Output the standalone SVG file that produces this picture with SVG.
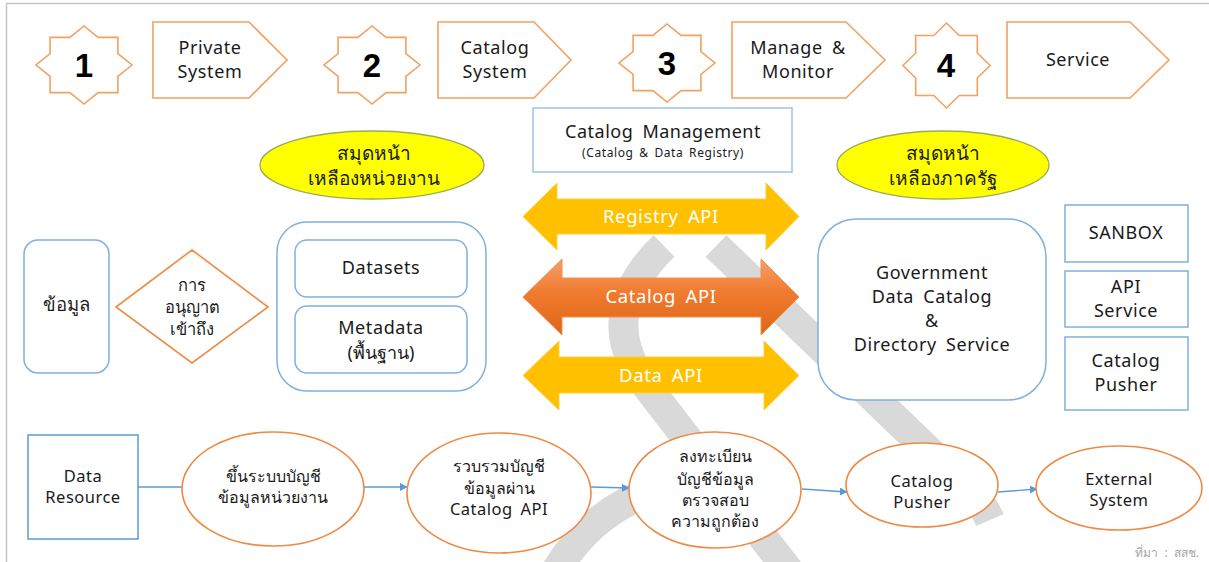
<svg xmlns="http://www.w3.org/2000/svg" width="1209" height="562" viewBox="0 0 1209 562">
<style>
text{font-family:'Noto Sans','DejaVu Sans',sans-serif;fill:#1a1a1a;text-anchor:middle}
.en{letter-spacing:0.6px;word-spacing:4px}
.step{fill:#fff;stroke:#f4a160;stroke-width:1.6}
.num{font-family:'Liberation Sans',Arial,sans-serif;font-weight:bold;font-size:33px;fill:#000}
.t18{font-size:18px}
.t16{font-size:16px}
.b16{font-size:16.5px;letter-spacing:0.5px;word-spacing:3px}
.bx{fill:#fff;stroke:#7fb0e0;stroke-width:1.5}
.ell{fill:#fff;stroke:#ed8a45;stroke-width:1.6}
.yel{fill:#ffff00;stroke:#9aab55;stroke-width:1.3}
.api{fill:#fff;font-size:18.5px;letter-spacing:0.6px;word-spacing:4px}
.con{stroke:#5b9bd5;stroke-width:1.4;fill:none}
.wm{fill:none;stroke:#d9d9d9;stroke-width:30}
</style>
<defs>
<linearGradient id="og" x1="0" y1="0" x2="0" y2="1">
<stop offset="0" stop-color="#f4a06a"/>
<stop offset="0.45" stop-color="#f07a2e"/>
<stop offset="1" stop-color="#dd6615"/>
</linearGradient>
<marker id="ah" viewBox="0 0 10 10" refX="9" refY="5" markerWidth="8" markerHeight="8" markerUnits="userSpaceOnUse" orient="auto">
<path d="M0,0 L10,5 L0,10 z" fill="#5b9bd5"/>
</marker>
<polygon id="star" points="48,0 33.9,11.4 33.9,27.6 14.1,27.6 0,39 -14.1,27.6 -33.9,27.6 -33.9,11.4 -48,0 -33.9,-11.4 -33.9,-27.6 -14.1,-27.6 0,-39 14.1,-27.6 33.9,-27.6 33.9,-11.4"/>
</defs>
<rect width="1209" height="562" fill="#fff"/>
<path d="M6.5,562 V3.5 H1209" fill="none" stroke="#c4c4c4" stroke-width="1.5"/>

<!-- watermark -->
<g id="watermark">
<path class="wm" d="M664,246 Q596,312 642,380 L792,575"/>
<path class="wm" d="M716,246 L930,452 Q978,492 990,520"/>
<path class="wm" d="M552,578 Q588,512 655,490"/>
</g>

<!-- top steps -->
<g id="step1">
<use href="#star" class="step" transform="translate(84,65)"/>
<text class="num" x="84" y="77">1</text>
</g>
<g id="private-system">
<polygon class="step" points="153,22 249,22 287,60 249,98 153,98"/>
<text class="t18 en" x="210" y="54">Private</text>
<text class="t18 en" x="210" y="78">System</text>
</g>
<g id="step2">
<use href="#star" class="step" transform="translate(372,65)"/>
<text class="num" x="372" y="77">2</text>
</g>
<g id="catalog-system">
<polygon class="step" points="438,22 534,22 571,60 534,98 438,98"/>
<text class="t18 en" x="495" y="54">Catalog</text>
<text class="t18 en" x="495" y="78">System</text>
</g>
<g id="step3">
<use href="#star" class="step" transform="translate(667,63)"/>
<text class="num" x="667" y="75">3</text>
</g>
<g id="manage-monitor">
<polygon class="step" points="732,22 846,22 885,60 846,98 732,98"/>
<text class="t18 en" x="798" y="54">Manage &amp;</text>
<text class="t18 en" x="798" y="78">Monitor</text>
</g>
<g id="step4">
<polygon class="step" transform="translate(946.5,65.5)" points="43.5,0 30.8,12.5 30.8,30 12.7,30 0,42.5 -12.7,30 -30.8,30 -30.8,12.5 -43.5,0 -30.8,-12.5 -30.8,-30 -12.7,-30 0,-42.5 12.7,-30 30.8,-30 30.8,-12.5"/>
<text class="num" x="946" y="77">4</text>
</g>
<g id="service">
<polygon class="step" points="1007,22 1130,22 1169,60 1130,98 1007,98"/>
<text class="t18 en" x="1078" y="66">Service</text>
</g>

<!-- catalog management -->
<g id="catalog-management">
<rect x="533" y="108" width="259" height="64" fill="#fff" stroke="#9cc2e8" stroke-width="1.5"/>
<text class="en" x="663" y="138" font-size="18" style="letter-spacing:0.5px">Catalog Management</text>
<text x="663" y="157" font-size="12" style="letter-spacing:0.6px;word-spacing:2px">(Catalog &amp; Data Registry)</text>
</g>

<g id="yellow-left">
<ellipse class="yel" cx="372" cy="165" rx="112" ry="34"/>
<text x="374" y="160" font-size="19">สมุดหน้า</text>
<text x="374" y="185" font-size="19">เหลืองหน่วยงาน</text>
</g>
<g id="yellow-right">
<ellipse class="yel" cx="943" cy="165" rx="106" ry="34"/>
<text x="943" y="160" font-size="19">สมุดหน้า</text>
<text x="943" y="185" font-size="19">เหลืองภาครัฐ</text>
</g>

<!-- API arrows -->
<g id="registry-api">
<polygon points="523,216.5 557,183 557,199 766,199 766,183 799,216.5 766,250 766,234 557,234 557,250" fill="#ffc000" stroke="#ffcf40" stroke-width="1"/>
<text class="api" x="661" y="223">Registry API</text>
</g>
<g id="catalog-api">
<polygon points="523,297 562,259 562,278 761,278 761,259 799,297 761,335 761,317 562,317 562,335" fill="url(#og)" stroke="#f0904f" stroke-width="1"/>
<text class="api" x="661" y="303">Catalog API</text>
</g>
<g id="data-api">
<polygon points="523,375.5 559,341 559,357 764,357 764,341 799,375.5 764,410 764,393 559,393 559,410" fill="#ffc000" stroke="#ffcf40" stroke-width="1"/>
<text class="api" x="661" y="382">Data API</text>
</g>

<!-- left side -->
<g id="data-node">
<rect class="bx" x="24" y="240" width="85" height="133" rx="14"/>
<text x="66" y="311" font-size="18.5">ข้อมูล</text>
</g>
<g id="access-diamond">
<polygon points="116,307 192,250 268,307 192,363" fill="#fff" stroke="#ed8a45" stroke-width="1.6"/>
<text x="192" y="291" font-size="16.5">การ</text>
<text x="192" y="313" font-size="16.5">อนุญาต</text>
<text x="192" y="335" font-size="16.5">เข้าถึง</text>
</g>
<g id="agency-catalog">
<rect class="bx" x="277" y="222" width="209" height="169" rx="30"/>
</g>
<g id="datasets">
<rect class="bx" x="295" y="240" width="172" height="57" rx="12"/>
<text class="t18 en" x="381" y="274">Datasets</text>
</g>
<g id="metadata">
<rect class="bx" x="295" y="306" width="172" height="67" rx="12"/>
<text class="t18 en" x="381" y="334">Metadata</text>
<text class="t18" x="381" y="359">(พื้นฐาน)</text>
</g>

<!-- right side -->
<g id="gov-catalog">
<rect class="bx" x="818" y="219" width="228" height="181" rx="38"/>
<text class="t18 en" x="932" y="279">Government</text>
<text class="t18 en" x="932" y="303">Data Catalog</text>
<text class="t18 en" x="932" y="327">&amp;</text>
<text class="t18 en" x="932" y="351">Directory Service</text>
</g>
<g id="sanbox">
<rect class="bx" x="1065" y="205" width="123" height="57"/>
<text class="t18 en" x="1126" y="239">SANBOX</text>
</g>
<g id="api-service">
<rect class="bx" x="1065" y="271" width="123" height="56"/>
<text class="t18 en" x="1126" y="293">API</text>
<text class="t18 en" x="1126" y="317">Service</text>
</g>
<g id="catalog-pusher-box">
<rect class="bx" x="1065" y="337" width="123" height="73"/>
<text class="t18 en" x="1126" y="367">Catalog</text>
<text class="t18 en" x="1126" y="391">Pusher</text>
</g>

<!-- connectors -->
<g id="connectors">
<line class="con" x1="138" y1="487" x2="182" y2="487"/>
<line class="con" x1="364" y1="487" x2="407" y2="487" marker-end="url(#ah)"/>
<line class="con" x1="591" y1="487" x2="629" y2="488" marker-end="url(#ah)"/>
<line class="con" x1="802" y1="489" x2="847" y2="492" marker-end="url(#ah)"/>
<line class="con" x1="998" y1="492" x2="1037" y2="489" marker-end="url(#ah)"/>
</g>

<!-- bottom row -->
<g id="data-resource">
<rect x="28" y="435" width="110" height="104" fill="#fff" stroke="#5b9bd5" stroke-width="1.5"/>
<text class="b16" x="83" y="482">Data</text>
<text class="b16" x="83" y="503">Resource</text>
</g>
<g id="step-a">
<ellipse class="ell" cx="273" cy="489" rx="91" ry="57"/>
<text class="t16" x="273" y="482">ขึ้นระบบบัญชี</text>
<text class="t16" x="273" y="503">ข้อมูลหน่วยงาน</text>
</g>
<g id="step-b">
<ellipse class="ell" cx="499" cy="493" rx="92" ry="60"/>
<text class="t16" x="499" y="472">รวบรวมบัญชี</text>
<text class="t16" x="499" y="494">ข้อมูลผ่าน</text>
<text class="b16" x="499" y="515">Catalog API</text>
</g>
<g id="step-c">
<ellipse class="ell" cx="715" cy="490" rx="86" ry="58"/>
<text class="t16" x="715" y="462">ลงทะเบียน</text>
<text class="t16" x="715" y="485">บัญชีข้อมูล</text>
<text class="t16" x="715" y="506">ตรวจสอบ</text>
<text class="t16" x="715" y="527">ความถูกต้อง</text>
</g>
<g id="step-d">
<ellipse class="ell" cx="922" cy="485" rx="76" ry="42"/>
<text class="b16" x="922" y="487">Catalog</text>
<text class="b16" x="922" y="508">Pusher</text>
</g>
<g id="step-e">
<ellipse class="ell" cx="1119" cy="488" rx="83" ry="42"/>
<text class="b16" x="1119" y="485">External</text>
<text class="b16" x="1119" y="506">System</text>
</g>

<text x="1199" y="557" font-size="12" style="text-anchor:end;fill:#a6a6a6;word-spacing:3px">ที่มา :  สสช.</text>
</svg>
